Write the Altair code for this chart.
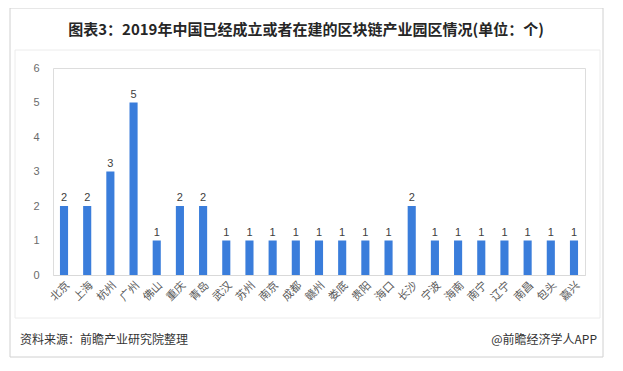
import altair as alt
import pandas as pd

cities = ["北京", "上海", "杭州", "广州", "佛山", "重庆", "青岛", "武汉", "苏州", "南京",
          "成都", "赣州", "娄底", "贵阳", "海口", "长沙", "宁波", "海南", "南宁", "辽宁",
          "南昌", "包头", "嘉兴"]
counts = [2, 2, 3, 5, 1, 2, 2, 1, 1, 1, 1, 1, 1, 1, 1, 2, 1, 1, 1, 1, 1, 1, 1]
y_ticks = [0, 1, 2, 3, 4, 5, 6]

title_text = "图表3：2019年中国已经成立或者在建的区块链产业园区情况(单位：个)"
source_text = "资料来源：前瞻产业研究院整理"
brand_text = "@前瞻经济学人APP"

df = pd.DataFrame({"city": cities, "count": counts})
FONT = "Noto Sans CJK SC"
W, H = 532, 207

xscale = alt.Scale(paddingInner=0.65, paddingOuter=0.3)
yscale = alt.Scale(domain=[0, 6])

xenc = alt.X("city:N", sort=cities, scale=xscale,
             axis=alt.Axis(title=None, labelAngle=-45, labelFontSize=11,
                           labelColor="#595959", labelFont=FONT, ticks=False,
                           domainColor="#d9d9d9", labelPadding=4))
yenc = alt.Y("count:Q", scale=yscale,
             axis=alt.Axis(title=None, values=y_ticks, grid=False, domain=False,
                           ticks=False, labelFontSize=11, labelColor="#6b6b6b",
                           labelPadding=14, labelOverlap=False))

frame = alt.Chart(pd.DataFrame({"a": [0]})).mark_rect(
    filled=False, stroke="#d0d0d0", strokeWidth=1
).encode(x=alt.value(-43), x2=alt.value(550), y=alt.value(-60), y2=alt.value(289))

inner = alt.Chart(pd.DataFrame({"a": [0]})).mark_rect(
    filled=False, stroke="#ececec", strokeWidth=1
).encode(x=alt.value(-38), x2=alt.value(547), y=alt.value(-18), y2=alt.value(250))

bars = alt.Chart(df).mark_bar(color="#3a7ddb").encode(x=xenc, y=yenc)
labels = alt.Chart(df).mark_text(dy=-8, fontSize=11, color="#404040").encode(
    x=xenc, y=yenc, text="count:Q")

title = alt.Chart(pd.DataFrame({"t": [title_text]})).mark_text(
    fontSize=15, fontWeight="bold", font=FONT, color="#262626", align="center"
).encode(x=alt.value(253), y=alt.value(-38), text="t:N")

src = alt.Chart(pd.DataFrame({"t": [source_text]})).mark_text(
    fontSize=12, font=FONT, color="#333333", align="left"
).encode(x=alt.value(-33), y=alt.value(272), text="t:N")

brand = alt.Chart(pd.DataFrame({"t": [brand_text]})).mark_text(
    fontSize=12, font=FONT, color="#333333", align="right"
).encode(x=alt.value(544), y=alt.value(272), text="t:N")

chart = alt.layer(frame, inner, bars, labels, title, src, brand).properties(
    width=W, height=H,
    autosize=alt.AutoSizeParams(type="none"),
    padding={"left": 45, "top": 60, "right": 30, "bottom": 88},
).configure_view(stroke=None).configure(background="white")

chart.save("out.html", embed_options={"renderer": "svg", "actions": False})
